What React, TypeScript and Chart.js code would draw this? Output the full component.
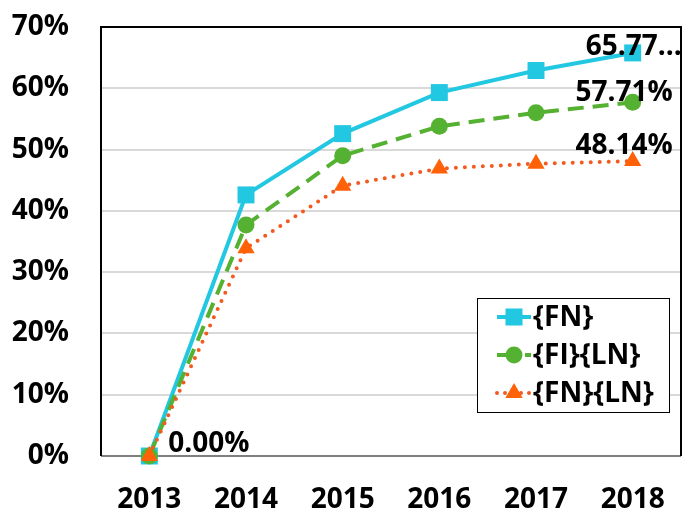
import React, { useEffect, useRef } from "react";
import { Chart, registerables } from "chart.js";
Chart.register(...registerables);

const years = ["2013", "2014", "2015", "2016", "2017", "2018"];
const seriesNames = ["{FN}", "{FI}{LN}", "{FN}{LN}"];
const fnValues = [0, 42.6, 52.6, 59.3, 62.9, 65.77];
const fiLnValues = [0, 37.7, 49.0, 53.8, 56.0, 57.71];
const fnLnValues = [0, 33.9, 44.1, 46.9, 47.7, 48.14];
const yMin = 0;
const yMax = 70;
const yStep = 10;
const lastLabels = ["65.77...", "57.71%", "48.14%"];
const firstLabel = "0.00%";

const FONT = "'Open Sans', 'Liberation Sans', sans-serif";
const CYAN = "#22C7E1";
const GREEN = "#55B131";
const ORANGE = "#FF6108";
const ORANGE_DOT = "#F25A20";

const styles = [
  { color: CYAN, pointStyle: "rect", radius: 12, dash: [] as number[], cap: "butt", lineColor: CYAN },
  { color: GREEN, pointStyle: "circle", radius: 8.5, dash: [16, 9], cap: "butt", lineColor: GREEN },
  { color: ORANGE, pointStyle: "triangle", radius: 10, dash: [0, 9], cap: "round", lineColor: ORANGE_DOT },
];

const framePlugin = {
  id: "frame",
  beforeDatasetsDraw(chart: any) {
    const { ctx, chartArea } = chart;
    const { left, right, top, bottom } = chartArea;
    ctx.save();
    ctx.strokeStyle = "#7f7f7f";
    ctx.lineWidth = 2;
    ctx.beginPath();
    ctx.moveTo(left, bottom);
    ctx.lineTo(right, bottom);
    ctx.stroke();
    ctx.strokeStyle = "#000";
    ctx.lineWidth = 2;
    ctx.beginPath();
    ctx.moveTo(left, bottom);
    ctx.lineTo(left, top);
    ctx.lineTo(right, top);
    ctx.lineTo(right, bottom);
    ctx.stroke();
    ctx.restore();
  },
};

const labelPlugin = {
  id: "labels",
  afterDatasetsDraw(chart: any) {
    const { ctx } = chart;
    ctx.save();
    ctx.font = `bold 28px ${FONT}`;
    ctx.fillStyle = "#000";
    ctx.textBaseline = "middle";
    const dy = [6, 9, 15];
    const dx = [49, 40, 40];
    for (let i = 0; i < 3; i++) {
      const meta = chart.getDatasetMeta(i);
      const pt = meta.data[meta.data.length - 1];
      ctx.textAlign = "right";
      ctx.fillText(lastLabels[i], pt.x + dx[i], pt.y - dy[i]);
    }
    const m0 = chart.getDatasetMeta(2).data[0];
    ctx.textAlign = "left";
    ctx.fillText(firstLabel, m0.x + 19, m0.y - 12);

    // legend
    const { chartArea } = chart;
    const bx = chartArea.right - 204;
    const by = chartArea.bottom - 158;
    const bw = 192;
    const bh = 114;
    ctx.fillStyle = "#fff";
    ctx.fillRect(bx, by, bw, bh);
    ctx.strokeStyle = "#000";
    ctx.lineWidth = 1;
    ctx.strokeRect(bx + 0.5, by + 0.5, bw, bh);
    for (let i = 0; i < 3; i++) {
      const s = styles[i];
      const cy = by + 19 + i * 38;
      const lx0 = bx + 20;
      const lx1 = bx + 54;
      const mx = bx + 37;
      ctx.save();
      ctx.strokeStyle = s.lineColor;
      ctx.lineWidth = 4;
      ctx.setLineDash(s.dash.length ? (i === 2 ? [0, 8] : [10, 4]) : []);
      ctx.lineCap = s.cap;
      ctx.beginPath();
      ctx.moveTo(lx0, cy);
      ctx.lineTo(lx1, cy);
      ctx.stroke();
      ctx.restore();
      ctx.fillStyle = s.color;
      ctx.beginPath();
      if (i === 0) {
        ctx.rect(mx - 8.5, cy - 8.5, 17, 17);
      } else if (i === 1) {
        ctx.arc(mx, cy, 8.5, 0, Math.PI * 2);
      } else {
        ctx.moveTo(mx - 8.7, cy + 5);
        ctx.lineTo(mx + 8.7, cy + 5);
        ctx.lineTo(mx, cy - 10);
        ctx.closePath();
      }
      ctx.fill();
      ctx.fillStyle = "#000";
      ctx.textAlign = "left";
      ctx.font = `bold 28px ${FONT}`;
      ctx.fillText(seriesNames[i], bx + 56, cy + 1);
    }
    ctx.restore();
  },
};

export default function App() {
  const ref = useRef<HTMLCanvasElement>(null);
  useEffect(() => {
    const values = [fnValues, fiLnValues, fnLnValues];
    const chart = new Chart(ref.current as HTMLCanvasElement, {
      type: "line",
      data: {
        labels: years,
        datasets: values.map((v, i) => ({
          label: seriesNames[i],
          data: v,
          borderColor: styles[i].lineColor,
          backgroundColor: styles[i].color,
          pointBackgroundColor: styles[i].color,
          pointBorderColor: styles[i].color,
          pointBorderWidth: 0,
          pointStyle: styles[i].pointStyle as any,
          pointRadius: styles[i].radius,
          pointHoverRadius: styles[i].radius,
          borderWidth: 4,
          borderDash: styles[i].dash,
          borderCapStyle: styles[i].cap as any,
          tension: 0,
          clip: false as any,
          order: 3 - i,
        })),
      },
      options: {
        animation: false,
        responsive: false,
        events: [],
        layout: { padding: { top: 27, right: 17, left: 0, bottom: 0 } },
        plugins: { legend: { display: false }, tooltip: { enabled: false } },
        scales: {
          x: {
            offset: true,
            grid: { display: false, drawTicks: false },
            border: { display: false },
            ticks: { color: "#000", padding: 27, font: { family: FONT, size: 28, weight: "bold" } },
            afterFit(scale: any) {
              scale.height = 73;
              scale.paddingLeft = 0;
              scale.paddingRight = 0;
            },
          },
          y: {
            min: yMin,
            max: yMax,
            grid: { color: "#d9d9d9", lineWidth: 2, drawTicks: false },
            border: { display: false },
            ticks: {
              stepSize: yStep,
              color: "#000",
              padding: 32,
              font: { family: FONT, size: 28, weight: "bold" },
              callback: (v: any) => `${v}%`,
            },
            afterFit(scale: any) {
              scale.width = 101;
              scale.paddingTop = 0;
              scale.paddingBottom = 0;
            },
          },
        },
      },
      plugins: [framePlugin, labelPlugin],
    });
    return () => chart.destroy();
  }, []);
  return (
    <div style={{ position: "fixed", left: 0, top: 0, width: 698, height: 529, background: "#fff" }}>
      <canvas ref={ref} width={698} height={529} style={{ width: 698, height: 529, display: "block" }} />
    </div>
  );
}
